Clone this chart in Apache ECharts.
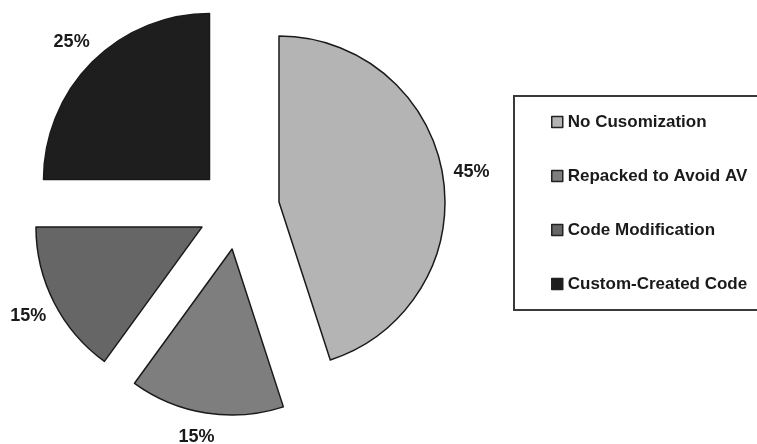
<!DOCTYPE html>
<html>
<head>
<meta charset="utf-8">
<script src="https://cdn.jsdelivr.net/npm/echarts@6/dist/echarts.min.js"></script>
<style>
  html, body { margin: 0; padding: 0; background: #ffffff; }
  #chart { width: 757px; height: 444px; }
</style>
</head>
<body>
<div id="chart"></div>
<script>
// Share of samples by level of customization
const categories = ['No Cusomization', 'Repacked to Avoid AV', 'Code Modification', 'Custom-Created Code'];
const shares = [45, 15, 15, 25];
const sliceColors = ['#b4b4b4', '#7e7e7e', '#666666', '#1e1e1e'];

const pieCenter = [238.5, 208.5];
const pieRadius = 166;
const explode = 41;

// small nudges keep the lower label inside the canvas
const labelNudge = [[0, 0], [-5, -5], [0, 0], [0, 0]];

const chart = echarts.init(document.getElementById('chart'), null, { renderer: 'canvas' });

const sliceData = categories.map((name, i) => ({
  name: name,
  value: shares[i],
  selected: true,
  itemStyle: { color: sliceColors[i] }
}));

const labelData = categories.map((name, i) => ({
  name: name,
  value: shares[i]
}));

chart.setOption({
  animation: false,
  backgroundColor: '#ffffff',
  legend: {
    orient: 'vertical',
    left: 514,
    top: 96,
    padding: [17, 120, 17, 37],
    itemGap: 36,
    itemWidth: 11,
    itemHeight: 11,
    icon: 'rect',
    borderColor: '#3a3a3a',
    borderWidth: 2,
    selectedMode: false,
    data: categories,
    itemStyle: { borderColor: '#222222', borderWidth: 1.5 },
    textStyle: {
      fontFamily: 'Liberation Sans, Arial, sans-serif',
      fontWeight: 'bold',
      fontSize: 17,
      lineHeight: 18,
      color: '#1a1a1a'
    }
  },
  series: [
    {
      type: 'pie',
      center: pieCenter,
      radius: pieRadius,
      startAngle: 90,
      clockwise: true,
      selectedMode: 'multiple',
      selectedOffset: explode,
      avoidLabelOverlap: false,
      silent: true,
      itemStyle: { borderColor: '#1a1a1a', borderWidth: 1.5 },
      label: { show: false },
      labelLine: { show: false },
      emphasis: { disabled: true },
      data: sliceData
    },
    {
      // transparent ring that carries the percentage labels
      type: 'pie',
      center: pieCenter,
      radius: [227, 239],
      startAngle: 90,
      clockwise: true,
      silent: true,
      avoidLabelOverlap: false,
      itemStyle: { color: 'rgba(0,0,0,0)', borderWidth: 0 },
      labelLine: { show: false },
      emphasis: { disabled: true },
      label: {
        show: true,
        position: 'inside',
        formatter: '{c}%',
        fontFamily: 'Liberation Sans, Arial, sans-serif',
        fontWeight: 'bold',
        fontSize: 18,
        color: '#1a1a1a'
      },
      labelLayout: function (params) {
        const n = labelNudge[params.dataIndex];
        return { dx: n[0], dy: n[1] };
      },
      data: labelData
    }
  ]
});
</script>
</body>
</html>
